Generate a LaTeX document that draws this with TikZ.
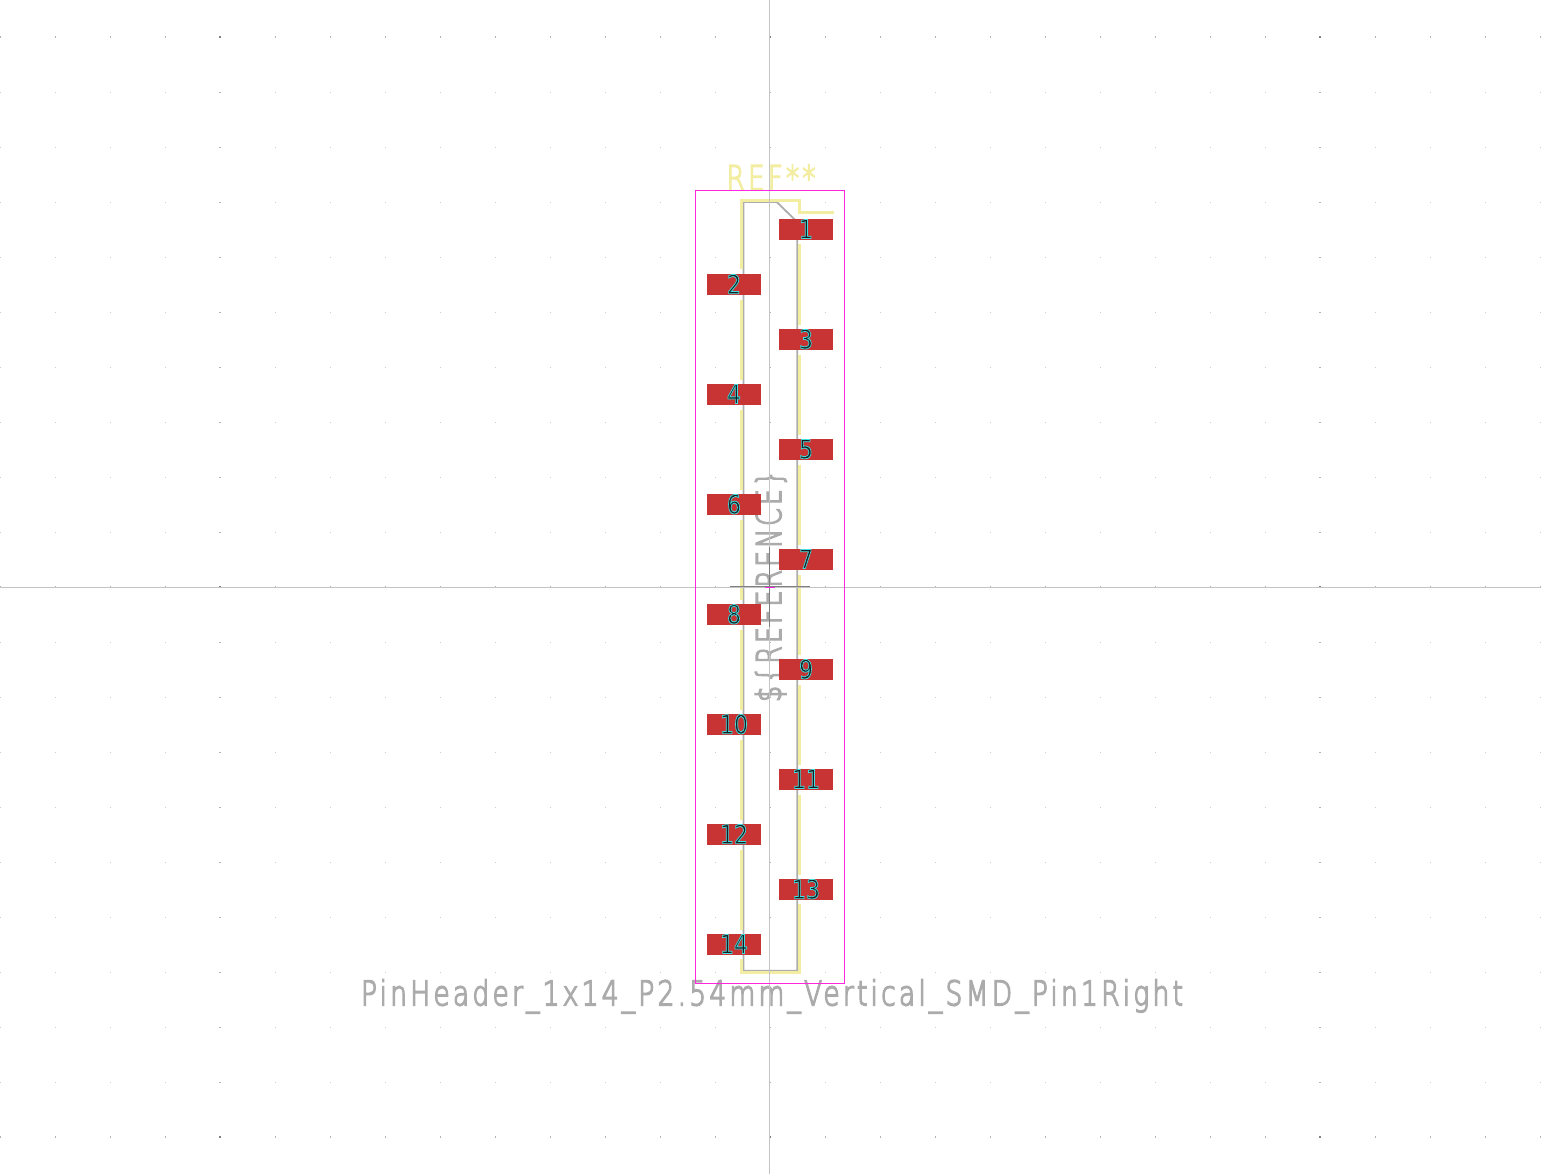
\documentclass[tikz,border=0pt]{standalone}
\usepackage{graphicx}
\usepackage{fontspec}
\setmainfont{DejaVu Sans}
\newfontfamily\kifont[LetterSpace=12,RawFeature={embolden=4.5}]{DejaVu Sans ExtraLight}
\newfontfamily\padfont[RawFeature={embolden=3}]{DejaVu Sans}
\definecolor{silk}{HTML}{F2EDA1}
\definecolor{fab}{HTML}{ADADAD}
\definecolor{padred}{HTML}{C83434}
\definecolor{court}{HTML}{FF26E2}
\definecolor{axisgray}{HTML}{C4C4C4}
\definecolor{origingray}{HTML}{808080}
\definecolor{txtgray}{HTML}{ABABAB}
\newcommand{\padnum}[1]{\special{pdf:bcolor [0.08 0.12 0.14] [0.25 0.88 0.88]}\raisebox{1pt}{\scalebox{0.85}[1]{#1}}\special{pdf:ecolor}}
\tikzset{
  padbox/.style={fill=padred,draw=none,minimum width=54pt,minimum height=21pt,inner sep=0pt,font=\padfont\fontsize{26}{26}\selectfont},
  silkline/.style={draw=silk,line width=3pt,line cap=butt,line join=miter},
  fabline/.style={draw=fab,line width=1.8pt,line join=round},
  courtline/.style={draw=court,line width=1pt},
  axisline/.style={draw=axisgray,line width=1pt},
  originline/.style={draw=origingray,line width=1pt},
  bigtext/.style={inner sep=0pt,anchor=base,text=txtgray,font=\kifont\fontsize{34}{34}\selectfont}
}
\begin{document}
\begin{tikzpicture}[x=1pt,y=-1pt]
\useasboundingbox (0,0) rectangle (1541,1174);
\fill[white] (0,0) rectangle (1541,1174);
% grid
\foreach \i in {0,...,28}{
  \foreach \j in {0,...,20}{
    \pgfmathtruncatemacro{\mi}{mod(\i,10)==4 ? 1 : 0}
    \pgfmathtruncatemacro{\mj}{mod(\j,10)==0 ? 1 : 0}
    \pgfmathsetmacro{\px}{55*\i}
    \pgfmathsetmacro{\py}{37+55*\j}
    \pgfmathtruncatemacro{\lvl}{\mi+\mj}
    \ifnum\lvl=2 \def\dc{black!50}\else\ifnum\lvl=1 \def\dc{black!30}\else\def\dc{black!20}\fi\fi
    \fill[\dc] (\px-\mi,\py-\mj) rectangle (\px+1,\py+1);
  }
}
% fabrication outline
\draw[fabline] (776.7,202) -- (797.3,222) -- (797.3,970.7) -- (743.5,970.7) -- (743.5,202) -- cycle;
% reference text
\node[bigtext,rotate=90] (fabref) at (781,586) {\resizebox{232pt}{\height}{\$\{REFERENCE\}}};
\node[bigtext,text=silk] (silkref) at (771,190) {\resizebox{89pt}{\height}{REF**}};
\node[bigtext] (valuetext) at (772,1005.3) {\resizebox{822pt}{\height}{PinHeader\_1x14\_P2.54mm\_Vertical\_SMD\_Pin1Right}};
% silk
\draw[silkline] (834,212.3) -- (799.6,212.3) -- (799.6,200.6) -- (741.5,200.6) -- (741.5,269);
\foreach \n in {1,3,5,7,9,11}{
  \pgfmathsetmacro{\ya}{229.5+55*(\n-1)+15}
  \pgfmathsetmacro{\yb}{229.5+55*(\n+1)-15}
  \draw[silkline] (799.6,\ya) -- (799.6,\yb);
}
\foreach \n in {2,4,6,8,10,12}{
  \pgfmathsetmacro{\ya}{229.5+55*(\n-1)+15}
  \pgfmathsetmacro{\yb}{229.5+55*(\n+1)-15}
  \draw[silkline] (741.5,\ya) -- (741.5,\yb);
}
\draw[silkline] (741.5,959) -- (741.5,972.3) -- (799.6,972.3) -- (799.6,904);
% axes
\draw[axisline] (769.5,0) -- (769.5,1174);
\draw[axisline] (0,587.5) -- (1541,587.5);
% courtyard
\draw[courtline] (695.5,190.5) rectangle (844.5,983);
% pads
\foreach \n in {1,3,5,7,9,11,13}{
  \node[padbox] (pad\n) at (806,{229.5+55*(\n-1)}) {\padnum{\n}};
}
\foreach \n in {2,4,6,8,10,12,14}{
  \node[padbox] (pad\n) at (734,{229.5+55*(\n-1)}) {\padnum{\n}};
}
% origin marker
\draw[originline] (730,586.5) -- (810,586.5);
\draw[originline] (769.5,547) -- (769.5,627);
\draw[courtline] (765,587.5) -- (775,587.5);
\end{tikzpicture}
\end{document}
